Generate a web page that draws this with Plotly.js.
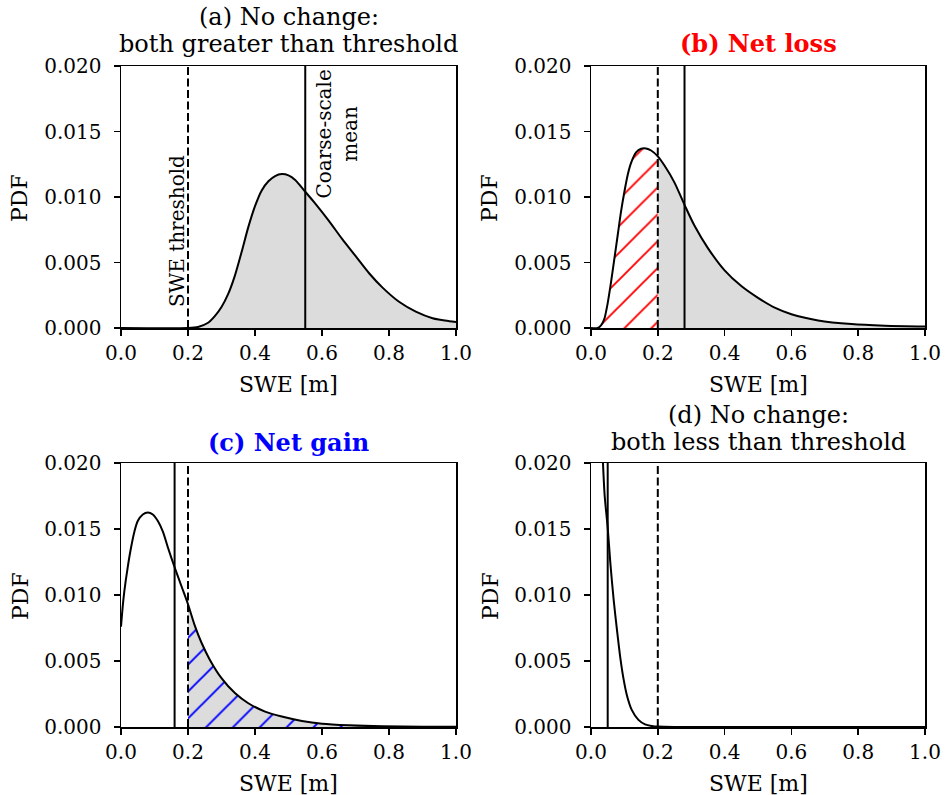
<!DOCTYPE html>
<html>
<head>
<meta charset="utf-8">
<script src="https://cdn.plot.ly/plotly-3.0.1.min.js"></script>
<style>
  html, body { margin: 0; padding: 0; background: #ffffff; }
  #chart { width: 945px; height: 795px; }
</style>
</head>
<body>
<div id="chart"></div>
<script>
// ---------------- data ----------------
const threshold = 0.2;
const coarseMean = [0.55, 0.28, 0.16, 0.05];

const xA = [0, 0.2, 0.23, 0.26, 0.28, 0.30, 0.32, 0.34, 0.36, 0.38, 0.40, 0.42, 0.44, 0.46, 0.48, 0.50, 0.52, 0.55, 0.58, 0.62, 0.66, 0.70, 0.74, 0.78, 0.83, 0.88, 0.93, 0.98, 1.0];
const yA = [0, 0, 0.00008, 0.0004, 0.0009, 0.0016, 0.0026, 0.0040, 0.0058, 0.0077, 0.0093, 0.0105, 0.0112, 0.0116, 0.01175, 0.01165, 0.0113, 0.0104, 0.0095, 0.0082, 0.0068, 0.0055, 0.0042, 0.0031, 0.0020, 0.00125, 0.00075, 0.00052, 0.00046];

const xB = [0, 0.02, 0.03, 0.04, 0.05, 0.06, 0.07, 0.08, 0.09, 0.10, 0.11, 0.12, 0.135, 0.15, 0.165, 0.18, 0.2, 0.22, 0.25, 0.28, 0.31, 0.35, 0.40, 0.45, 0.50, 0.55, 0.60, 0.68, 0.78, 0.88, 1.0];
const yB = [0, 0, 0.0002, 0.0007, 0.0019, 0.0035, 0.0053, 0.0071, 0.0089, 0.0104, 0.0117, 0.0126, 0.0134, 0.01368, 0.0137, 0.01355, 0.0131, 0.0124, 0.0111, 0.0094, 0.0078, 0.0061, 0.0044, 0.0032, 0.0023, 0.00155, 0.00105, 0.00058, 0.0003, 0.00018, 0.00012];

const xC = [0, 0.005, 0.01, 0.02, 0.03, 0.04, 0.05, 0.065, 0.08, 0.095, 0.11, 0.125, 0.14, 0.16, 0.18, 0.2, 0.22, 0.24, 0.265, 0.30, 0.34, 0.38, 0.43, 0.48, 0.54, 0.60, 0.68, 0.78, 0.9, 1.0];
const yC = [0.0076, 0.0091, 0.0103, 0.0121, 0.0136, 0.0148, 0.0156, 0.0161, 0.01625, 0.0161, 0.0156, 0.0148, 0.0136, 0.0121, 0.0107, 0.0093, 0.0077, 0.0064, 0.0051, 0.0037, 0.00257, 0.0018, 0.00117, 0.00079, 0.00046, 0.00025, 0.00013, 0.00005, 0.00002, 0.00001];

const xD = [0.03, 0.035, 0.041, 0.05, 0.058, 0.068, 0.078, 0.088, 0.097, 0.107, 0.122, 0.142, 0.162, 0.182, 0.2, 0.25, 0.4, 0.6, 0.8, 1.0];
const yD = [0.024, 0.0205, 0.0175, 0.0151, 0.0124, 0.0096, 0.0073, 0.0052, 0.0037, 0.00245, 0.0013, 0.00054, 0.0002, 0.00008, 0.00003, 0, 0, 0, 0, 0];

const xTickVals = [0, 0.2, 0.4, 0.6, 0.8, 1.0];
const xTickText = ['0.0', '0.2', '0.4', '0.6', '0.8', '1.0'];
const yTickVals = [0, 0.005, 0.010, 0.015, 0.020];
const yTickText = ['0.000', '0.005', '0.010', '0.015', '0.020'];

const panelTitles = [
  ['(a) No change:', 'both greater than threshold'],
  ['<b>(b) Net loss</b>'],
  ['<b>(c) Net gain</b>'],
  ['(d) No change:', 'both less than threshold']
];
const titleColors = ['#000000', '#ff0000', '#0000ff', '#000000'];
const xTitle = 'SWE [m]';
const yTitle = 'PDF';

// ---------------- helpers ----------------
const FONT = 'DejaVu Serif, Liberation Serif, serif';
const GRAY = '#dcdcdc';

function seg(xs, ys, lo, hi) {
  const ox = [], oy = [];
  for (let i = 0; i < xs.length; i++) {
    if (xs[i] >= lo - 1e-9 && xs[i] <= hi + 1e-9) { ox.push(xs[i]); oy.push(ys[i]); }
  }
  return {x: ox, y: oy};
}

const traces = [];
function fillTrace(xs, ys, ax, extra) {
  const t = Object.assign({
    x: xs, y: ys, xaxis: ax[0], yaxis: ax[1], mode: 'lines',
    line: {width: 0, shape: 'spline', smoothing: 0.8},
    fill: 'tozeroy', fillcolor: GRAY, hoverinfo: 'skip', showlegend: false
  }, extra || {});
  traces.push(t);
}
function curveTrace(xs, ys, ax) {
  traces.push({
    x: xs, y: ys, xaxis: ax[0], yaxis: ax[1], mode: 'lines',
    line: {color: '#000000', width: 2, shape: 'spline', smoothing: 0.8},
    hoverinfo: 'skip', showlegend: false
  });
}

const axes = [['x', 'y'], ['x2', 'y2'], ['x3', 'y3'], ['x4', 'y4']];

// (a)
fillTrace(xA, yA, axes[0]);
curveTrace(xA, yA, axes[0]);
// (b)
let bl = seg(xB, yB, 0, threshold);
let br = seg(xB, yB, threshold, 1);
fillTrace(bl.x, bl.y, axes[1], {fillcolor: '#ffffff',
  fillpattern: {shape: '/', fgcolor: '#ff0000', bgcolor: '#ffffff', size: 19, solidity: 0.1}});
fillTrace(br.x, br.y, axes[1]);
curveTrace(xB, yB, axes[1]);
// (c)
let cr = seg(xC, yC, threshold, 1);
fillTrace(cr.x, cr.y, axes[2], {fillcolor: GRAY,
  fillpattern: {shape: '/', fgcolor: '#0000ff', bgcolor: GRAY, size: 19, solidity: 0.1}});
curveTrace(xC, yC, axes[2]);
// (d)
curveTrace(xD, yD, axes[3]);

// ---------------- layout ----------------
const W = 945, H = 795;
const px = [[121, 456], [591, 925], [121, 456], [591, 925]];
const py = [[66, 328], [66, 328], [463, 727], [463, 727]];

function xaxisDef(i) {
  return {
    domain: [px[i][0] / W, px[i][1] / W], anchor: axes[i][1],
    range: [0, 1], tickvals: xTickVals, ticktext: xTickText,
    ticks: 'outside', ticklen: 6, tickwidth: 1.5, tickcolor: '#000',
    showline: true, linewidth: 1.5, linecolor: '#000', mirror: true,
    showgrid: false, zeroline: false, fixedrange: true,
    tickfont: {family: FONT, size: 20, color: '#000'}
  };
}
function yaxisDef(i) {
  return {
    domain: [1 - py[i][1] / H, 1 - py[i][0] / H], anchor: axes[i][0],
    range: [0, 0.02], tickvals: yTickVals, ticktext: yTickText,
    ticks: 'outside', ticklen: 6, tickwidth: 1.5, tickcolor: '#000',
    ticklabelstandoff: 8,
    showline: true, linewidth: 1.5, linecolor: '#000', mirror: true,
    showgrid: false, zeroline: false, fixedrange: true,
    tickfont: {family: FONT, size: 20, color: '#000'}
  };
}

const layout = {
  width: W, height: H,
  margin: {l: 0, r: 0, t: 0, b: 0},
  paper_bgcolor: '#ffffff', plot_bgcolor: '#ffffff',
  showlegend: false,
  font: {family: FONT, size: 20, color: '#000'},
  shapes: [], annotations: []
};
for (let i = 0; i < 4; i++) {
  const k = i === 0 ? '' : String(i + 1);
  layout['xaxis' + k] = xaxisDef(i);
  layout['yaxis' + k] = yaxisDef(i);
  const xr = axes[i][0], yr = axes[i][1] + ' domain';
  layout.shapes.push({type: 'line', xref: xr, yref: yr, x0: threshold, x1: threshold, y0: 0, y1: 1,
    line: {color: '#000', width: 2, dash: '8px,3.5px'}});
  layout.shapes.push({type: 'line', xref: xr, yref: yr, x0: coarseMean[i], x1: coarseMean[i], y0: 0, y1: 1,
    line: {color: '#000', width: 2}});
  // axis titles
  const cx = (px[i][0] + px[i][1]) / 2, cy = (py[i][0] + py[i][1]) / 2;
  layout.annotations.push({text: xTitle, xref: 'paper', yref: 'paper', x: cx / W, y: 1 - (py[i][1] + 56) / H,
    xanchor: 'center', yanchor: 'middle', showarrow: false, font: {family: FONT, size: 22, color: '#000'}});
  layout.annotations.push({text: yTitle, xref: 'paper', yref: 'paper', x: (px[i][0] - 101) / W, y: 1 - (cy + 1) / H,
    xanchor: 'center', yanchor: 'middle', textangle: -90, showarrow: false, font: {family: FONT, size: 22, color: '#000'}});
}
// panel titles (one annotation per line)
const titleLineY = [[17, 44], [44], [442], [415, 442]];
for (let i = 0; i < 4; i++) {
  const cx = (px[i][0] + px[i][1]) / 2;
  panelTitles[i].forEach(function (line, j) {
    layout.annotations.push({text: line, xref: 'paper', yref: 'paper', x: cx / W, y: 1 - titleLineY[i][j] / H,
      xanchor: 'center', yanchor: 'middle', showarrow: false, align: 'center',
      font: {family: FONT, size: 24, color: titleColors[i]}});
  });
}
// in-plot labels of panel (a)
layout.annotations.push({text: 'SWE threshold', xref: 'x', yref: 'y', x: 0.167, y: 0.0074,
  xanchor: 'center', yanchor: 'middle', textangle: -90, showarrow: false, font: {family: FONT, size: 20, color: '#000'}});
layout.annotations.push({text: 'Coarse-scale<br>mean', xref: 'x', yref: 'y', x: 0.646, y: 0.0148,
  xanchor: 'center', yanchor: 'middle', textangle: -90, showarrow: false, align: 'center',
  font: {family: FONT, size: 20, color: '#000'}});

Plotly.newPlot('chart', traces, layout, {staticPlot: true, displayModeBar: false});
</script>
</body>
</html>
